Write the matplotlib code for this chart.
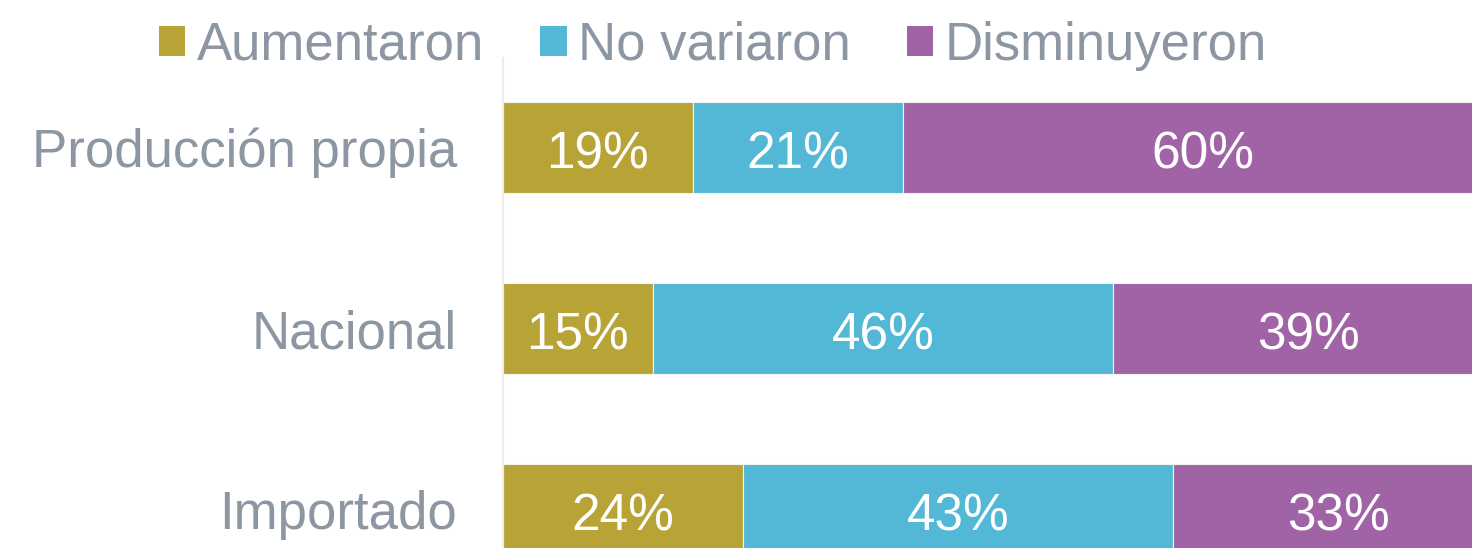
import matplotlib.pyplot as plt
from matplotlib.patches import Patch

categories = ['Producción propia', 'Nacional', 'Importado']
series = ['Aumentaron', 'No variaron', 'Disminuyeron']
aumentaron = [19, 15, 24]
no_variaron = [21, 46, 43]
disminuyeron = [60, 39, 33]
colors = ['#B8A337', '#53B8D6', '#A064A6']
text_gray = '#8D97A3'

plt.rcParams['font.family'] = ['Liberation Sans', 'DejaVu Sans']

W, H = 1472, 548
fig = plt.figure(figsize=(W / 100, H / 100), dpi=100)
ax = fig.add_axes([503 / W, 0, 1 - 503 / W, (H - 58) / H])

values = [aumentaron, no_variaron, disminuyeron]
ypos = list(range(len(categories)))
left = [0] * len(categories)
for vals, col in zip(values, colors):
    ax.barh(ypos, vals, left=left, height=0.5, color=col,
            edgecolor='#F2F2EE', linewidth=0.8)
    for y, l, v in zip(ypos, left, vals):
        # labels sit a little below the bar centre, like the original
        ax.text(l + v / 2, y + 0.04, f'{v}%', ha='center', va='center',
                color='white', fontsize=37)
    left = [a + b for a, b in zip(left, vals)]

ax.set_xlim(0, (W - 503) / 10)
ax.set_ylim((H - 147.5) / 181, (58 - 147.5) / 181)
ax.set_yticks(ypos)
ax.set_yticklabels(categories, fontsize=38, color=text_gray)
ax.tick_params(axis='y', length=0, pad=33)
ax.set_xticks([])
for s in ['top', 'right', 'bottom']:
    ax.spines[s].set_visible(False)
ax.spines['left'].set_color('#EDEDED')
ax.spines['left'].set_linewidth(1.5)

handles = [Patch(facecolor=c, edgecolor='none') for c in colors]
leg = fig.legend(handles, series, loc='center', bbox_to_anchor=(713 / W, 1 - 46 / H),
                 ncol=3, frameon=False, fontsize=38, handlelength=0.5,
                 handleheight=0.5, handletextpad=0.22, columnspacing=1.06,
                 borderaxespad=0, borderpad=0)
for t in leg.get_texts():
    t.set_color(text_gray)

fig.savefig('out.png', dpi=100)
